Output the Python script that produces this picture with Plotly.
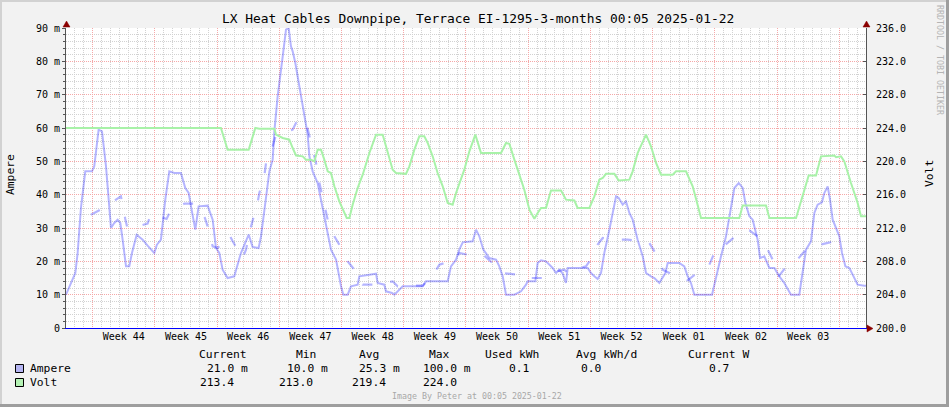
import plotly.graph_objects as go
from datetime import datetime, timedelta

# ---------------- data ----------------
START = datetime(2024, 10, 24, 0, 5)
END = datetime(2025, 1, 22, 0, 5)

# Ampere (milli-ampere), time in days since START
ampere_days = [0.0, 0.56, 1.05, 1.31, 1.68, 2.17, 2.92, 3.18, 3.67, 4.05, 4.50, 5.06, 5.43, 5.81, 6.11,
               6.37, 6.75, 7.12, 7.42, 7.95, 8.62, 9.18, 9.93, 10.23, 10.68, 11.17, 11.62, 12.18, 12.93,
               13.42, 13.80, 14.13, 14.55, 14.92, 15.93, 16.50, 16.87, 17.25, 17.62, 18.18, 18.93, 19.68,
               20.25, 20.55, 21.00, 21.67, 21.94, 22.50, 22.88, 23.25, 23.44, 23.81, 24.19, 24.38, 24.75,
               25.05, 25.31, 25.50, 25.80, 26.44, 26.81, 27.19, 27.38, 27.75, 28.31, 28.69, 29.06, 29.44,
               29.81, 30.38, 30.68, 30.94, 31.20, 31.69, 32.06, 32.81, 33.00, 33.94, 34.88, 35.06, 35.81,
               36.00, 36.68, 36.94, 37.31, 37.88, 40.13, 40.50, 42.94, 43.31, 43.88, 44.25, 44.63, 45.75,
               46.13, 46.50, 46.95, 47.63, 48.38, 48.75, 49.13, 49.50, 50.44, 51.19, 51.75, 51.94, 52.80,
               53.06, 53.44, 54.00, 54.75, 55.13, 55.50, 55.88, 56.25, 56.44, 58.69, 59.06, 59.44, 59.81,
               60.19, 60.56, 61.13, 61.50, 61.88, 62.18, 62.63, 63.00, 63.38, 63.75, 64.31, 64.88, 65.25,
               65.81, 66.19, 66.75, 67.43, 67.69, 69.00, 69.56, 69.94, 70.31, 70.69, 72.68, 73.13, 73.69,
               74.25, 74.81, 75.19, 75.68, 76.13, 76.43, 76.88, 77.25, 77.81, 78.08, 78.56, 79.13, 79.69,
               80.25, 80.81, 81.56, 82.50, 82.69, 83.25, 83.81, 84.19, 84.56, 85.05, 85.31, 85.69, 85.95,
               86.25, 86.63, 87.00, 87.30, 87.68, 88.13, 88.61, 89.06, 89.81, 90.0]
ampere_ma = [10, 13.5, 16.5, 22.5, 36, 47, 47, 48.5, 59.5, 59, 48.5, 30, 31.5, 32.5, 31.5,
             26.5, 18.5, 18.5, 22.5, 28, 26.5, 24.7, 22.5, 25, 26.5, 38.5, 47, 46.5, 46.5,
             42, 40.5, 35.5, 29.5, 36.5, 36.7, 32.5, 24, 22.5, 17.5, 15, 15.5, 22.5,
             26.5, 28, 24.3, 24, 27.5, 39.5, 47, 50.5, 59, 69.5, 76.5, 81.5, 89.5,
             90, 84.5, 83, 79.5, 69.5, 64.5, 58, 51.5, 47, 43.5, 38.5, 34.5, 28.5,
             23.5, 20.5, 15.5, 12.5, 10, 10, 12.5, 13, 15.5, 16, 16.3, 13.5, 13,
             11, 10.5, 10, 11, 12.5, 12.5, 14, 14, 18.5, 20.5, 23.5, 25.7, 26,
             29.5, 27.5, 23.5, 21, 20.5, 18.5, 15.5, 10, 10, 11, 13, 14, 14,
             19.5, 20.3, 20, 18, 16.5, 17.5, 16.3, 13.5, 18, 18, 16.5, 15.5, 14.7,
             16.5, 22.5, 29.5, 34.5, 39.5, 39, 37, 38, 34.5, 32.5, 26.5, 21.5, 16.5,
             15.5, 15, 13.5, 16.5, 19.5, 19.5, 18.5, 15.5, 13.5, 10, 10, 15.5, 21.5,
             27.5, 35.5, 42, 43.5, 42, 37.5, 33.5, 32.5, 26.5, 21, 21.5, 18, 18,
             15.5, 13.5, 10, 10, 13.5, 23.5, 26, 34.5, 37, 37.7, 40.5, 42.5, 38.5,
             32.5, 30, 27.5, 22.5, 18.5, 18, 15.5, 13, 12.7, 12.7]

# Ampere trend (dashed), milli-ampere
trend_days = [2.81, 3.75, 5.62, 6.18, 6.67, 6.93, 9.18, 9.56, 11.32, 11.81, 13.31, 14.43, 15.63, 15.93,
              16.50, 17.06, 18.37, 18.75, 19.87, 20.25, 20.70, 21.00, 21.56, 21.75, 22.31, 22.50, 23.25,
              23.63, 25.50, 26.06, 27.00, 27.30, 27.94, 28.13, 28.43, 28.69, 29.18, 29.44, 30.19, 30.75,
              31.69, 32.44, 33.38, 34.69, 36.75, 37.31, 38.25, 40.13, 41.44, 42.00, 43.88, 44.25, 45.75,
              47.06, 48.38, 48.94, 50.93, 51.38, 53.81, 54.38, 56.06, 56.44, 56.81, 57.38, 58.50, 58.88,
              59.81, 60.38, 62.06, 63.19, 65.06, 65.63, 66.75, 67.13, 69.00, 69.94, 71.44, 72.38, 73.13,
              73.88, 75.75, 76.88, 78.30, 78.94, 79.88, 80.18, 81.19, 81.94, 83.25, 84.00, 85.95, 87.00]
trend_ma = [34, 35.3, 38.5, 39.5, 32.7, 29.7, 31.3, 34.3, 32.7, 35.5, 37.3, 37.3, 33, 30.5,
            24.5, 24, 28, 26, 21, 23.5, 29.3, 32, 37.7, 40.5, 45.5, 49.5, 54.5,
            58, 59.5, 62.5, 62, 58.5, 51.5, 49.5, 44.5, 41.5, 35.5, 32.5, 27.5, 25,
            20, 17.5, 13, 13, 14, 12.5, 12.7, 12.7, 16.5, 19, 20.5, 22.5, 21.7,
            21.7, 18.5, 16.5, 16, 15, 15, 16.5, 17.5, 16.5, 17.5, 17.7, 18.5, 20,
            25, 27, 26.5, 26.5, 26, 25.5, 20.5, 17.5, 15, 14.3, 17.5, 19, 23.7,
            24.3, 28.5, 29.3, 26.5, 23.5, 18.5, 15.5, 19, 19.5, 23.5, 24.5, 25.7, 26.5]

# Volt
volt_days = [0.0, 17.43, 18.18, 20.55, 21.30, 21.75, 23.44, 23.63, 24.38, 25.13, 25.50, 25.88, 26.63,
             27.00, 27.56, 27.94, 28.31, 28.69, 29.06, 29.44, 29.81, 30.19, 30.75, 31.31, 31.58, 31.88,
             32.25, 32.81, 33.38, 34.13, 34.88, 35.63, 36.19, 36.75, 37.13, 38.25, 38.63, 39.19, 39.75,
             40.31, 40.69, 41.25, 41.81, 42.38, 42.94, 43.50, 43.88, 44.44, 44.81, 45.38, 46.05, 46.69,
             48.94, 49.50, 49.88, 50.44, 51.00, 51.56, 52.13, 52.69, 53.06, 53.44, 54.00, 54.56, 55.69,
             56.25, 57.19, 57.56, 58.88, 59.44, 60.00, 60.38, 60.75, 61.69, 62.18, 63.38, 63.75, 64.31,
             65.25, 65.81, 66.38, 66.94, 68.25, 68.63, 69.75, 70.13, 70.50, 70.95, 71.44, 75.75, 76.13,
             78.75, 79.13, 82.13, 82.50, 83.06, 83.55, 84.38, 84.94, 86.44, 86.63, 87.19, 87.56, 88.31,
             89.06, 89.44, 90.0]
volt_v = [224, 224, 221.4, 221.4, 224, 223.9, 223.9, 223.2, 222.8, 222.6, 221.6, 220.7, 220.6,
          220.2, 220.2, 220.0, 221.4, 221.4, 220.2, 218.8, 218.6, 217.0, 215.2, 213.8, 213.2, 213.2,
          214.8, 216.8, 218.4, 221.0, 223.2, 223.2, 221.2, 219.0, 218.6, 218.5, 219.4, 221.4, 223.0,
          223.0, 222.2, 220.6, 218.6, 217.0, 215.0, 214.8, 216.2, 218.0, 219.0, 221.2, 223.2, 221.0,
          221.0, 222.2, 222.1, 220.2, 218.4, 216.6, 214.2, 213.1, 213.8, 214.4, 214.4, 216.5, 216.5,
          215.4, 215.3, 214.4, 214.4, 215.8, 217.8, 218.0, 218.5, 218.5, 217.7, 217.8, 218.8, 221.0,
          223.2, 221.8, 219.8, 218.4, 218.4, 218.8, 218.8, 217.8, 217.0, 215.2, 213.2, 213.2, 214.7,
          214.7, 213.2, 213.2, 214.6, 216.6, 218.3, 218.3, 220.6, 220.7, 220.5, 220.6, 220.0, 217.4,
          215.0, 213.4, 213.4]

week_starts = ["2024-10-27", "2024-11-03", "2024-11-10", "2024-11-17", "2024-11-24", "2024-12-01",
               "2024-12-08", "2024-12-15", "2024-12-22", "2024-12-29", "2025-01-05", "2025-01-12",
               "2025-01-19"]
week_labels = ["Week 44", "Week 45", "Week 46", "Week 47", "Week 48", "Week 49",
               "Week 50", "Week 51", "Week 52", "Week 01", "Week 02", "Week 03"]

amp_tickvals = [0, 10, 20, 30, 40, 50, 60, 70, 80, 90]
amp_ticktext = ["0", "10 m", "20 m", "30 m", "40 m", "50 m", "60 m", "70 m", "80 m", "90 m"]
volt_tickvals = [200, 204, 208, 212, 216, 220, 224, 228, 232, 236]

legend_header = ["Current", "Min", "Avg", "Max", "Used kWh", "Avg kWh/d", "Current W"]
ampere_stats = ["21.0 m", "10.0 m", "25.3 m", "100.0 m", "0.1", "0.0", "0.7"]
volt_stats = ["213.4", "213.0", "219.4", "224.0"]

TITLE = "LX Heat Cables Downpipe, Terrace EI-1295-3-months 00:05 2025-01-22"
FOOTER = "Image By Peter at 00:05 2025-01-22"

# ---------------- build ----------------
def to_time(days):
    return [START + timedelta(days=d) for d in days]

week_mid = [datetime.fromisoformat(w) + timedelta(days=3.5) for w in week_starts[:len(week_labels)]]

MONO = "DejaVu Sans Mono"
AMP_COLOR = "rgba(0,0,255,0.29)"
VOLT_COLOR = "rgb(168,242,168)"
RED_GRID = "#f5a8a8"
GREY_GRID = "#d2d2d2"
AXIS = "#555555"
ARROW = "#8b0000"

L, T, W, H = 66, 28, 800, 300
FIG_W, FIG_H = 949, 407


def fx(px):
    return (px - L) / W


def fy(py):
    return (T + H - py) / H


fig = go.Figure()
fig.add_trace(go.Scatter(x=to_time(volt_days), y=volt_v, yaxis="y2", mode="lines",
                         line=dict(color=VOLT_COLOR, width=2), name="Volt"))
fig.add_trace(go.Scatter(x=to_time(ampere_days), y=ampere_ma, mode="lines",
                         line=dict(color=AMP_COLOR, width=2), name="Ampere"))
fig.add_trace(go.Scatter(x=to_time(trend_days), y=trend_ma, mode="lines",
                         line=dict(color=AMP_COLOR, width=2.2, dash="10px,18px"), name="Ampere trend"))
# helper trace so the label axis is rendered
fig.add_trace(go.Scatter(x=[START], y=[None], xaxis="x2", mode="lines", hoverinfo="skip", showlegend=False))

annotations = []


def text(px, py, s, size=11.3, xanchor="left", color="#000000", angle=0, yanchor="middle"):
    annotations.append(dict(x=fx(px), y=fy(py), xref="paper", yref="paper", text=s, showarrow=False,
                            xanchor=xanchor, yanchor=yanchor, textangle=angle, borderpad=0, borderwidth=0,
                            font=dict(family=MONO, size=size, color=color)))


text(478, 19, TITLE, size=12.9, xanchor="center")
text(10, 174, "Ampere", size=11.3, xanchor="center", angle=-90)
text(929, 174, "Volt", size=11.3, xanchor="center", angle=-90)
text(940, 60, "RRDTOOL / TOBI OETIKER", size=8.3, xanchor="center", angle=90, color="#b4b4b4")
text(477, 396, FOOTER, size=8.3, xanchor="center", color="#a8a8a8")

header_x = [199, 296, 359, 429, 485, 576, 688]
amp_x = [207, 287, 359, 423, 509, 581, 709]
volt_x = [200, 279, 352, 423]
for s, px in zip(legend_header, header_x):
    text(px, 354.5, s)
text(30, 368, "Ampere")
for s, px in zip(ampere_stats, amp_x):
    text(px, 368, s)
text(30, 382, "Volt")
for s, px in zip(volt_stats, volt_x):
    text(px, 382, s)

shapes = []


def pline(x0, y0, x1, y1, color, width):
    shapes.append(dict(type="line", xref="paper", yref="paper", x0=fx(x0), y0=fy(y0), x1=fx(x1), y1=fy(y1),
                       line=dict(color=color, width=width), layer="above"))


def tri(points, color):
    path = "M " + " L ".join(f"{fx(a)},{fy(b)}" for a, b in points) + " Z"
    shapes.append(dict(type="path", xref="paper", yref="paper", path=path, fillcolor=color,
                       line=dict(color=color, width=0.5), layer="above"))


# frame
pline(0, 1, FIG_W, 1, "#d2d2d2", 2)
pline(1, 0, 1, FIG_H, "#d2d2d2", 2)
pline(0, FIG_H - 1.5, FIG_W, FIG_H - 1.5, "#9e9e9e", 3)
pline(FIG_W - 1.5, 0, FIG_W - 1.5, FIG_H, "#9e9e9e", 3)
# axis arrows
tri([(66.5, 21.0), (63.0, 27.0), (70.0, 27.0)], ARROW)
tri([(866.5, 21.0), (863.0, 27.0), (870.0, 27.0)], ARROW)
tri([(873.0, 328.5), (867.0, 325.0), (867.0, 332.0)], ARROW)
# legend colour boxes
shapes.append(dict(type="rect", xref="paper", yref="paper", x0=fx(15.5), x1=fx(23.5), y0=fy(372.5), y1=fy(364.5),
                   fillcolor="#b4b4f2", line=dict(color="#000000", width=1), layer="above"))
shapes.append(dict(type="rect", xref="paper", yref="paper", x0=fx(15.5), x1=fx(23.5), y0=fy(386.5), y1=fy(378.5),
                   fillcolor="#b4f2b4", line=dict(color="#000000", width=1), layer="above"))

fig.update_layout(
    width=FIG_W, height=FIG_H, autosize=False,
    margin=dict(l=L, r=FIG_W - L - W, t=T, b=FIG_H - T - H, pad=0),
    paper_bgcolor="#f2f2f2", plot_bgcolor="#ffffff",
    showlegend=False,
    font=dict(family=MONO, size=10, color="#000000"),
    xaxis=dict(type="date", range=[START, END], tickmode="array", tickvals=week_starts,
               showticklabels=False, ticks="", showgrid=True, gridcolor=RED_GRID, griddash="1px,1px",
               gridwidth=1, showline=True, linecolor="#0000ff", linewidth=1, zeroline=False,
               minor=dict(dtick=86400000, tick0="2024-10-27", showgrid=True, gridcolor=GREY_GRID,
                          griddash="1px,1px", gridwidth=1, ticks="")),
    xaxis2=dict(type="date", overlaying="x", anchor="y", side="bottom", range=[START, END],
                tickmode="array", tickvals=week_mid, ticktext=week_labels, showgrid=False, ticks="",
                showline=False, zeroline=False, tickfont=dict(family=MONO, size=10), ticklabelstandoff=1),
    yaxis=dict(range=[0, 90], tickmode="array", tickvals=amp_tickvals, ticktext=amp_ticktext,
               showgrid=True, gridcolor=RED_GRID, griddash="1px,1px", gridwidth=1,
               ticks="outside", ticklen=3, tickcolor=AXIS, showline=True, linecolor=AXIS, linewidth=1,
               zeroline=False, tickfont=dict(family=MONO, size=10),
               minor=dict(dtick=2, showgrid=True, gridcolor=GREY_GRID, griddash="1px,1px", gridwidth=1,
                          ticks="outside", ticklen=2, tickcolor=AXIS)),
    yaxis2=dict(range=[200, 236], overlaying="y", side="right", anchor="x", tickmode="array",
                tickvals=volt_tickvals, tickformat=".1f", showgrid=False, ticks="inside", ticklen=3,
                tickcolor=AXIS, showline=True, linecolor=AXIS, linewidth=1, zeroline=False,
                tickfont=dict(family=MONO, size=10), ticklabelstandoff=7),
    annotations=annotations,
    shapes=shapes,
)

fig.write_html("out.html")
